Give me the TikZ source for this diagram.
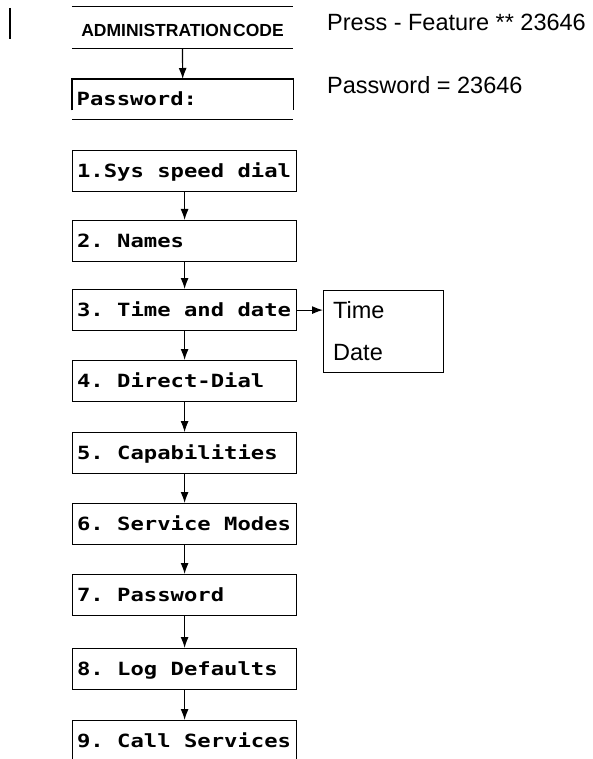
\documentclass[tikz,border=0pt]{standalone}
\usepackage{fontspec}
\setmainfont{Liberation Sans}
\newfontfamily\lcd[FakeStretch=1.22]{DejaVu Sans Mono}
\newcommand\lsp{\hspace*{13.4pt}}
\usetikzlibrary{arrows.meta}
\begin{document}
\begin{tikzpicture}[x=1pt,y=-1pt,
  lcdfont/.style={font={\lcd\bfseries\fontsize{18.2}{20}\selectfont}},
  menubox/.style={draw, line width=1.2pt, minimum width=224pt, minimum height=41pt,
    text width=215pt, align=left, inner xsep=4.5pt, inner ysep=0pt,
    text height=13.3pt, text depth=0pt, anchor=north west, lcdfont},
  flow/.style={-{Latex[length=11pt,width=8pt]}, line width=1.2pt},
  rule/.style={line width=1.3pt},
  plain/.style={font=\fontsize{23.5}{27}\selectfont, inner sep=0pt, anchor=base west}]
\useasboundingbox (0,0) rectangle (593,759);

% stray mark at the left
\draw[line width=1.2pt] (10,8) -- (10,39);

% header
\node[font=\bfseries\fontsize{17.5}{20}\selectfont, minimum width=221pt, minimum height=35pt,
  inner sep=0pt, text height=12pt, text depth=0pt] (admin) at (182.5,30.5)
  {ADMINISTRATION\hspace{1.5pt}CODE};
\draw[rule] ([yshift=6pt]admin.north west) -- ([yshift=6pt]admin.north east);
\draw[rule] (admin.south west) -- (admin.south east);

\node[lcdfont, minimum width=221pt, minimum height=39pt, text width=212pt, align=left,
  inner xsep=4.5pt, inner ysep=0pt, text height=13.3pt, text depth=0pt,
  anchor=north west] (pw) at (72,79) {Password:};
\draw[rule] ([yshift=8pt]pw.south west) -- (pw.north west) -- (pw.north east) -- ([yshift=8pt]pw.south east);
\draw[rule] ([yshift=-1pt]pw.south west) -- ([yshift=-1pt]pw.south east);
\draw[flow] (admin.south) -- (pw.north);

% notes
\node[plain] (press) at (327,30.5) {Press - Feature ** 23646};
\node[plain] (pwd) at (327,94) {Password = 23646};

% menu
\node[menubox] (b1) at (72,150) {1.Sys\lsp speed\lsp dial};
\node[menubox] (b2) at (72,220) {2.\lsp Names};
\node[menubox] (b3) at (72,289) {3.\lsp Time\lsp and\lsp date};
\node[menubox] (b4) at (72,360) {4.\lsp Direct-Dial};
\node[menubox] (b5) at (72,432) {5.\lsp Capabilities};
\node[menubox] (b6) at (72,503) {6.\lsp Service\lsp Modes};
\node[menubox] (b7) at (72,574) {7.\lsp Password};
\node[menubox] (b8) at (72,648) {8.\lsp Log\lsp Defaults};
\node[menubox] (b9) at (72,720) {9.\lsp Call\lsp Services};

\draw[flow] (b1.south) -- (b2.north);
\draw[flow] (b2.south) -- (b3.north);
\draw[flow] (b3.south) -- (b4.north);
\draw[flow, line width=0.8pt] (b4.south) -- (b5.north);
\draw[flow] (b5.south) -- (b6.north);
\draw[flow] (b6.south) -- (b7.north);
\draw[flow] (b7.south) -- (b8.north);
\draw[flow] (b8.south) -- (b9.north);

% time / date submenu
\node[draw, line width=1.2pt, minimum width=120pt, minimum height=82pt, anchor=north west,
  inner sep=0pt] (td) at (323,290) {};
\node[plain] (time) at (333,318) {Time};
\node[plain] (date) at (333,360) {Date};
\draw[flow] (b3.east) -- (b3.east -| td.west);
\end{tikzpicture}
\end{document}
